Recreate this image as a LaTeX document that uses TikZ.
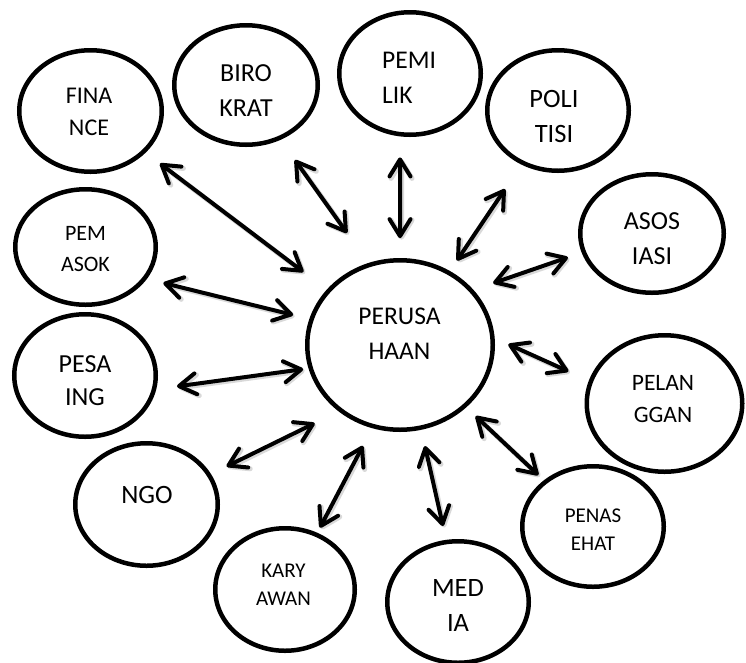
\documentclass[tikz,border=0pt]{standalone}
\usepackage{fontspec}
\setmainfont{Carlito}
\usetikzlibrary{arrows.meta,calc,shapes.geometric}
\newcommand\fsz[2]{\fontsize{#1}{#2}\selectfont}
\tikzset{
  ell/.style={draw, ellipse, line width=4.5pt, inner sep=0pt, fill=white},
  lbl/.style={align=center, inner sep=0pt, text=black},
  barb/.tip={Straight Barb[length=17pt,width=21pt,round]},
  arr/.style={line width=4pt, barb-barb,
    preaction={draw=black!15, line width=5pt, transform canvas={shift={(1.5pt,-1.5pt)}}}},
}
\begin{document}
\begin{tikzpicture}[x=1pt,y=-1pt]
\useasboundingbox (0,0) rectangle (746,662);
% ellipses
\node[ell, minimum width=185.5pt, minimum height=169.5pt] (per) at (400,345) {};
\node[ell, minimum width=142.5pt, minimum height=121.5pt] (fin) at (90.5,111) {};
\node[ell, minimum width=143.5pt, minimum height=119.5pt] (bir) at (246,85) {};
\node[ell, minimum width=141.5pt, minimum height=122.5pt] (pem) at (410,73.5) {};
\node[ell, minimum width=141.5pt, minimum height=120.5pt] (pol) at (558,110.5) {};
\node[ell, minimum width=143.5pt, minimum height=118.5pt] (aso) at (652,233.5) {};
\node[ell, minimum width=140.5pt, minimum height=115.5pt] (pmk) at (85.5,247) {};
\node[ell, minimum width=141.5pt, minimum height=122.5pt] (pes) at (85,375.5) {};
\node[ell, minimum width=142.5pt, minimum height=122.5pt] (ngo) at (146.5,504.5) {};
\node[ell, minimum width=139.5pt, minimum height=122.5pt] (kar) at (285,589.5) {};
\node[ell, minimum width=155.5pt, minimum height=136.5pt] (pel) at (664.5,403.5) {};
\node[ell, minimum width=141.5pt, minimum height=120.5pt] (pen) at (593,526.5) {};
\node[ell, minimum width=141.5pt, minimum height=121.5pt] (med) at (458,602) {};
% labels
\node[lbl, font=\fsz{25.5pt}{35pt}] (pert) at (399.5,333.5) {PERUSA\\HAAN};
\node[lbl, font=\fsz{24pt}{32pt}] (fint) at (89,111.5) {FINA\\NCE};
\node[lbl, font=\fsz{26pt}{35pt}] (birt) at (246,91) {BIRO\\KRAT};
\node[lbl, font=\fsz{25.5pt}{35pt}, align=left, anchor=west] (pemt) at (382,78) {PEMI\\LIK};
\node[lbl, font=\fsz{26.5pt}{35pt}] (polt) at (554,116) {POLI\\TISI};
\node[lbl, font=\fsz{26pt}{35pt}] (asot) at (652,239) {ASOS\\IASI};
\node[lbl, font=\fsz{22pt}{31pt}] (pmkt) at (85.5,249.5) {PEM\\ASOK};
\node[lbl, font=\fsz{26pt}{33pt}] (pest) at (85,381) {PESA\\ING};
\node[lbl, font=\fsz{26.5pt}{33pt}] (ngot) at (147,494.5) {NGO};
\node[lbl, font=\fsz{21pt}{28pt}] (kart) at (283.5,585) {KARY\\AWAN};
\node[lbl, font=\fsz{23.5pt}{32pt}] (pelt) at (663,399.5) {PELAN\\GGAN};
\node[lbl, font=\fsz{21pt}{28pt}] (pent) at (593,530) {PENAS\\EHAT};
\node[lbl, font=\fsz{26.5pt}{35pt}] (medt) at (458,605) {MED\\IA};
% arrows
\draw[arr] ($(fin)!0.2245!(per)$) -- ($(fin)!0.688!(per)$);
\draw[arr] ($(bir)!0.296!(per)!3.9pt!90:(per)$) -- ($(bir)!0.592!(per)!11.5pt!90:(per)$);
\draw[arr] ($(pem)!0.310!(per)!6.9pt!-90:(per)$) -- ($(pem)!0.607!(per)!3.9pt!-90:(per)$);
\draw[arr] ($(pol)!0.335!(per)$) -- ($(pol)!0.640!(per)$);
\draw[arr] ($(aso)!0.314!(per)!12.2pt!-90:(per)$) -- ($(aso)!0.600!(per)!18.9pt!-90:(per)$);
\draw[arr] ($(pmk)!0.258!(per)!11.2pt!-90:(per)$) -- ($(pmk)!0.663!(per)!3.1pt!-90:(per)$);
\draw[arr] ($(pes)!0.286!(per)!19.7pt!-90:(per)$) -- ($(pes)!0.688!(per)!14.7pt!-90:(per)$);
\draw[arr] ($(ngo)!0.294!(per)!10.4pt!-90:(per)$) -- ($(ngo)!0.620!(per)!20.8pt!-90:(per)$);
\draw[arr] ($(kar)!0.262!(per)!5.3pt!-90:(per)$) -- ($(kar)!0.604!(per)!9.4pt!-90:(per)$);
\draw[arr] ($(pel)!0.372!(per)!10.6pt!-90:(per)$) -- ($(pel)!0.610!(per)!24.1pt!-90:(per)$);
\draw[arr] ($(pen)!0.283!(per)$) -- ($(pen)!0.608!(per)$);
\draw[arr] ($(med)!0.294!(per)!2.1pt!-90:(per)$) -- ($(med)!0.605!(per)!2.1pt!-90:(per)$);
\end{tikzpicture}
\end{document}
